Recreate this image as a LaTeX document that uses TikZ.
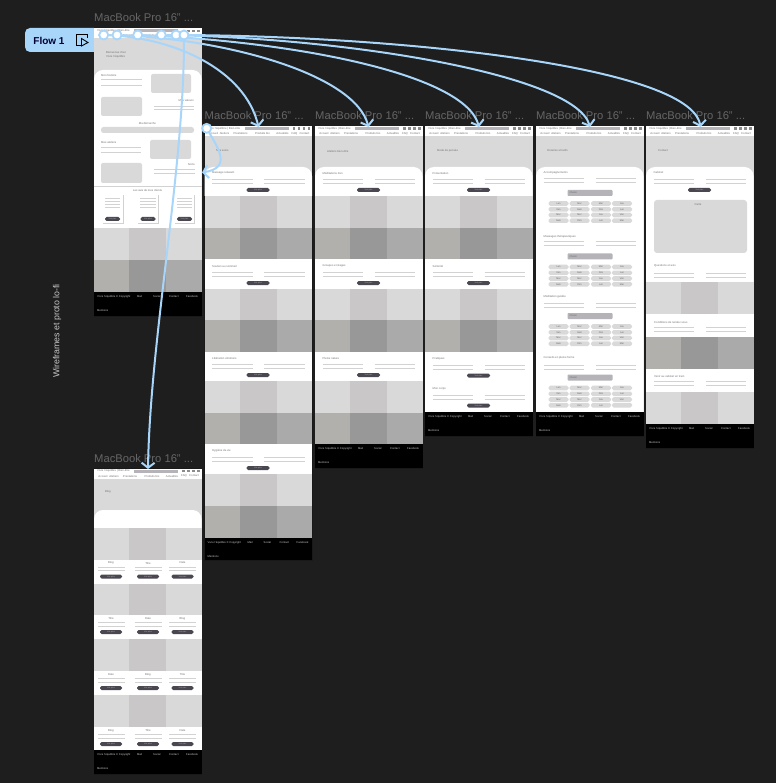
\documentclass[tikz,border=0pt]{standalone}
\usepackage{fontspec}
\setmainfont{Liberation Sans}
\usetikzlibrary{arrows.meta}

\definecolor{canvas}{HTML}{1E1E1E}
\definecolor{flowblue}{HTML}{A8D5FA}
\definecolor{hero}{HTML}{D9D9D9}
\definecolor{ruleline}{HTML}{D2D2D2}
\definecolor{photoa}{HTML}{D9D9D9}
\definecolor{photob}{HTML}{C9C7C7}
\definecolor{photoc}{HTML}{B2B0AC}
\definecolor{photod}{HTML}{989898}
\definecolor{photoe}{HTML}{AAAAAA}
\definecolor{btndark}{HTML}{4A4750}
\definecolor{selectgrey}{HTML}{B5B3B8}

\pgfdeclarelayer{arrowlayer}
\pgfdeclarelayer{spotlayer}
\pgfsetlayers{main,arrowlayer,spotlayer}

\tikzset{
  frametitle/.style={font=\fontsize{11.2}{12}\selectfont, text=black!60!white, inner sep=0pt},
  smalltext/.style={font=\fontsize{2.8}{3.4}\selectfont, text=black!55!white, inner sep=0pt},
  foottext/.style={font=\fontsize{2.7}{3.4}\selectfont, text=white!78!black, inner sep=0pt},
  rule/.style={draw=ruleline, line width=1pt},
  cardedge/.style={draw=ruleline, line width=.8pt},
  btnbox/.style={fill=btndark, rounded corners=1.6pt, minimum height=4pt, inner sep=0pt, text=white!70!black, font=\fontsize{2}{2.5}\selectfont},
  chipbox/.style={fill=hero, rounded corners=1.6pt, minimum width=20pt, minimum height=4.6pt, inner sep=0pt, text=black!60!white, font=\fontsize{2.4}{3}\selectfont},
  selectbox/.style={fill=selectgrey, rounded corners=.8pt, text width=41pt, minimum height=6pt, inner sep=2pt, inner ysep=0pt, text=black!60!white, font=\fontsize{2.4}{3}\selectfont},
  hotspot/.style={circle, fill=white, draw=flowblue, line width=1.8pt, minimum size=9pt, inner sep=0pt},
  flowarrow/.style={draw=flowblue, line width=2pt, ->, >={Straight Barb[length=5pt,width=13pt]}},
}

\newcounter{labnum}
\newcommand{\lab}[4][west]{\stepcounter{labnum}\node[smalltext,anchor=#1] (lab\arabic{labnum}) at (#2,#3) {#4};}
\newcommand{\flab}[3]{\stepcounter{labnum}\node[foottext,anchor=west] (lab\arabic{labnum}) at (#1,#2) {#3};}
\newcommand{\btn}[4][Voir plus]{\stepcounter{labnum}\node[btnbox,minimum width=#4] (lab\arabic{labnum}) at (#2,#3) {#1};}
\newcommand{\chiprow}[5]{
  \stepcounter{labnum}\node[chipbox] (lab\arabic{labnum}) at (558.5,#1) {#2};
  \stepcounter{labnum}\node[chipbox] (lab\arabic{labnum}) at (579.5,#1) {#3};
  \stepcounter{labnum}\node[chipbox] (lab\arabic{labnum}) at (601,#1) {#4};
  \stepcounter{labnum}\node[chipbox] (lab\arabic{labnum}) at (622,#1) {#5};
}
\newcommand{\choice}[1]{\stepcounter{labnum}\node[selectbox] (lab\arabic{labnum}) at (590,#1) {Choisir};}

\newcommand{\macframe}[4]{
  \node[frametitle,anchor=west] (#1title) at (#2,#3-10.5) {MacBook Pro 16" ...};
  \draw[black!90!white,line width=.8pt] (#2,#3) rectangle (#2+107.5,#4);
  \fill[hero] (#2,#3) rectangle (#2+107.5,#4);
  \fill[white] (#2,#3) rectangle (#2+107.5,#3+10);
  \fill[selectgrey] (#2+40,#3+1) rectangle (#2+84,#3+4);
  \foreach \i in {88,93,98,103} {\fill[black!45!white] (#2+\i,#3+1.2) rectangle ++(2.6,2.6);}
  \lab{#2+3}{#3+2.5}{Vivre l'équilibre | Bien-être}
  \lab[center]{#2+9}{#3+7.5}{Accueil}
  \lab[center]{#2+20}{#3+7.5}{Ateliers}
  \lab[center]{#2+36}{#3+7.5}{Prestations}
  \lab[center]{#2+58}{#3+7.5}{Produits bio}
  \lab[center]{#2+78}{#3+7.5}{Actualités}
  \lab[center]{#2+90}{#3+7.5}{FAQ}
  \lab[center]{#2+100}{#3+7.5}{Contact}
}
\newcommand{\whitecard}[3]{
  \fill[white,rounded corners=9pt] (#1,#3) |- (#1+107.5,#2) -- (#1+107.5,#3);
}
\newcommand{\whiteband}[3]{
  \fill[white] (#1,#2) rectangle (#1+107.5,#3);
}
\newcommand{\photorow}[6]{
  \fill[#4] (#1,#2) rectangle (#1+35,#3);
  \fill[#5] (#1+35,#2) rectangle (#1+72,#3);
  \fill[#6] (#1+72,#2) rectangle (#1+107.5,#3);
}
\newcommand{\photolight}[3]{\photorow{#1}{#2}{#3}{photoa}{photob}{photoa}}
\newcommand{\photodark}[3]{\photorow{#1}{#2}{#3}{photoc}{photod}{photoe}}
\newcommand{\footbar}[3]{
  \fill[black] (#1,#2) rectangle (#1+107.5,#3);
  \flab{#1+3}{#2+4.5}{Vivre l'équilibre © Copyright}
  \flab{#1+43}{#2+4.5}{Mail}
  \flab{#1+59}{#2+4.5}{Social}
  \flab{#1+75}{#2+4.5}{Contact}
  \flab{#1+92}{#2+4.5}{Facebook}
  \flab{#1+3}{#2+19}{Mentions}
}
\newcommand{\twolines}[2]{
  \draw[rule] (#1+7.5,#2) -- (#1+48,#2);
  \draw[rule] (#1+7.5,#2+4) -- (#1+48,#2+4);
  \draw[rule] (#1+59.5,#2) -- (#1+100,#2);
  \draw[rule] (#1+59.5,#2+4) -- (#1+100,#2+4);
}
\newcommand{\textblock}[3]{
  \lab{#1+7.5}{#2}{#3}
  \twolines{#1}{#2+6.5}
  \btn{#1+53.5}{#2+17}{23pt}
}
\newcommand{\itemcol}[5]{
  \lab[center]{#1}{#3+3.5}{#5}
  \draw[rule] (#1-#2,#3+7.5) -- (#1+#2,#3+7.5);
  \draw[rule] (#1-#2,#3+11) -- (#1+#2,#3+11);
  \btn{#1}{#3+17}{22pt}
}
\newcommand{\blogrow}[4]{
  \itemcol{111}{13.5}{#1}{}{#2}
  \itemcol{148}{13.5}{#1}{}{#3}
  \itemcol{182.5}{13.5}{#1}{}{#4}
}

\begin{document}
\begin{tikzpicture}[x=1pt,y=-1pt]
\useasboundingbox (0,0) rectangle (776,783);
\fill[canvas] (0,0) rectangle (776,783);

\fill[flowblue,rounded corners=5pt] (94,28) -- (25,28) -- (25,52) -- (94,52);
\fill[flowblue] (80,28) rectangle (94,52);
\node[inner sep=0pt, text=black!80!blue, font=\bfseries\fontsize{10}{12}\selectfont] (flowname) at (49,40.5) {Flow 1};
\draw[black,line width=.9pt] (87,34.5) -- (76.5,34.5) -- (76.5,45.5) -- (83,45.5);
\draw[black,line width=.9pt] (87,34.5) -- (87,38);
\draw[black,line width=.9pt] (81.5,38.5) -- (88,42.5) -- (81.5,46) -- cycle;
\node[inner sep=0pt, rotate=90, text=white!78!black, font=\fontsize{8.8}{10}\selectfont] (sectionname) at (57,331) {Wireframes et proto lo-fi};

\macframe{home}{94}{28.5}{316}
\lab{106}{53}{Bienvenue chez}
\lab{106}{56.5}{Vivre l'équilibre}
\whitecard{94}{70}{228}
\lab{101}{76}{Mon histoire}
\draw[rule] (101,80) -- (142,80);
\draw[rule] (101,85.5) -- (142,85.5);
\fill[hero,rounded corners=2pt] (151,74) rectangle (191,93);
\fill[hero,rounded corners=2pt] (101,97) rectangle (142,116);
\lab[east]{194}{101}{Mes valeurs}
\draw[rule] (154,106.5) -- (194,106.5);
\draw[rule] (154,110) -- (194,110);
\lab[center]{147.5}{123.5}{Ma démarche}
\fill[hero,rounded corners=2.5pt] (101,127) rectangle (194,133);
\lab{101}{143}{Mes ateliers}
\draw[rule] (101,148) -- (141,148);
\draw[rule] (101,152.5) -- (141,152.5);
\fill[hero,rounded corners=2pt] (150,140) rectangle (191,159);
\fill[hero,rounded corners=2pt] (101,163) rectangle (142,183);
\lab[east]{195}{165}{Soins}
\draw[rule] (154,170) -- (195,170);
\draw[rule] (154,174) -- (195,174);
\draw[cardedge] (94,186) -- (201.5,186);
\lab[center]{147.5}{190.5}{Les avis de mes clients}

\draw[cardedge] (123,195) -- (123,223) -- (103,223);
\draw[rule] (105,199) -- (120,199);
\draw[rule] (105,202) -- (120,202);
\draw[rule] (105,205) -- (120,205);
\draw[rule] (105,208) -- (120,208);
\btn{112.5}{219}{15pt}

\draw[cardedge] (158,195) -- (158,223) -- (138,223);
\draw[rule] (140,199) -- (156,199);
\draw[rule] (140,202) -- (156,202);
\draw[rule] (140,205) -- (156,205);
\draw[rule] (140,208) -- (156,208);
\btn{148}{219}{15pt}

\draw[cardedge] (194,195) -- (194,223) -- (175,223);
\draw[rule] (177,199) -- (192,199);
\draw[rule] (177,202) -- (192,202);
\draw[rule] (177,205) -- (192,205);
\draw[rule] (177,208) -- (192,208);
\btn{184.5}{219}{15pt}

\photolight{94}{228}{260}
\photodark{94}{260}{292}
\footbar{94}{292}{316}

\macframe{soins}{204.5}{126}{560}
\lab{216}{151}{Nos soins}
\whitecard{204.5}{167}{196}
\textblock{204.5}{173}{Massage relaxant}
\photolight{204.5}{196}{228}
\photodark{204.5}{228}{259}
\whiteband{204.5}{259}{289}
\textblock{204.5}{266}{Soutien au sommeil}
\photolight{204.5}{289}{320}
\photodark{204.5}{320}{352}
\whiteband{204.5}{352}{381}
\textblock{204.5}{358}{Libération émotions}
\photolight{204.5}{381}{413}
\photodark{204.5}{413}{444}
\whiteband{204.5}{444}{474}
\textblock{204.5}{451}{Hygiène de vie}
\photolight{204.5}{474}{506}
\photodark{204.5}{506}{538}
\footbar{204.5}{538}{560}

\macframe{ateliers}{315}{126}{468}
\lab{327}{151}{Ateliers bien-être}
\whitecard{315}{167}{196}
\textblock{315}{173}{Méditations Zen}
\photolight{315}{196}{228}
\photodark{315}{228}{259}
\whiteband{315}{259}{289}
\textblock{315}{266}{Groupes et stages}
\photolight{315}{289}{320}
\photodark{315}{320}{352}
\whiteband{315}{352}{381}
\textblock{315}{358}{Pleine nature}
\photolight{315}{381}{413}
\photodark{315}{413}{444}
\footbar{315}{444}{468}

\macframe{partage}{425}{126}{436}
\lab{437}{151}{Mode de pensée}
\whitecard{425}{167}{196}
\textblock{425}{173}{Présentation}
\photolight{425}{196}{228}
\photodark{425}{228}{259}
\whiteband{425}{259}{289}
\textblock{425}{266}{Sérénité}
\photolight{425}{289}{320}
\photodark{425}{320}{352}
\whiteband{425}{352}{412}
\textblock{425}{358.5}{Pratiques}
\textblock{425}{388.5}{Mon corps}
\footbar{425}{412}{436}

\macframe{tarifs}{536}{126}{436}
\lab{547}{151}{Horaires et tarifs}
\whitecard{536}{167}{412}
\lab{543.5}{173}{Accompagnements}
\twolines{536}{178.5}
\choice{193}
\chiprow{203.5}{Lun}{Mar}{Mer}{Jeu}
\chiprow{209.3}{Ven}{Sam}{Dim}{Lun}
\chiprow{215}{Mar}{Mer}{Jeu}{Ven}
\chiprow{220.7}{Sam}{Dim}{Lun}{Mar}
\lab{543.5}{236.5}{Massages thérapeutiques}
\twolines{536}{241.5}
\choice{256.5}
\chiprow{267}{Lun}{Mar}{Mer}{Jeu}
\chiprow{272.8}{Ven}{Sam}{Dim}{Lun}
\chiprow{278.5}{Mar}{Mer}{Jeu}{Ven}
\chiprow{284.2}{Sam}{Dim}{Lun}{Mar}
\lab{543.5}{296.5}{Méditation guidée}
\twolines{536}{303}
\choice{316}
\chiprow{326.5}{Lun}{Mar}{Mer}{Jeu}
\chiprow{332.3}{Ven}{Sam}{Dim}{Lun}
\chiprow{338}{Mar}{Mer}{Jeu}{Ven}
\chiprow{343.7}{Sam}{Dim}{Lun}{Mar}
\lab{543.5}{358}{Conseils en pleine forme}
\twolines{536}{365}
\choice{377.5}
\chiprow{388}{Lun}{Mar}{Mer}{Jeu}
\chiprow{393.8}{Ven}{Sam}{Dim}{Lun}
\chiprow{399.5}{Mar}{Mer}{Jeu}{Ven}
\chiprow{405.2}{Sam}{Dim}{Lun}{}
\footbar{536}{412}{436}

\macframe{contact}{646}{126}{448}
\lab{658}{151}{Contact}
\whitecard{646}{167}{282}
\textblock{646}{173}{Cabinet}
\fill[hero,rounded corners=3pt] (654,200) rectangle (747,253);
\lab[center]{698}{205}{Carte}
\lab{654}{266}{Questions et avis}
\twolines{646}{273}
\photolight{646}{282}{314}
\whiteband{646}{314}{337}
\lab{654}{322}{Conditions de rendez-vous}
\twolines{646}{327.5}
\photodark{646}{337}{368.5}
\whiteband{646}{368.5}{392}
\lab{654}{376}{Venir au cabinet en train}
\twolines{646}{381}
\photolight{646}{392}{424}
\footbar{646}{424}{448}

\macframe{blog}{94}{468.5}{774}
\lab{105}{492}{Blog}
\whitecard{94}{510}{528}
\photolight{94}{528}{559.5}
\whiteband{94}{559.5}{583.5}
\blogrow{559.5}{Blog}{Titre}{Date}
\photolight{94}{583.5}{615}
\whiteband{94}{615}{639}
\blogrow{615}{Titre}{Date}{Blog}
\photolight{94}{639}{671}
\whiteband{94}{671}{695}
\blogrow{671}{Date}{Blog}{Titre}
\photolight{94}{695}{727}
\whiteband{94}{727}{750}
\blogrow{727}{Blog}{Titre}{Date}
\footbar{94}{750}{774}

\coordinate (soinsin) at (258.5,127);
\coordinate (ateliersin) at (368.5,127);
\coordinate (partagein) at (479,127);
\coordinate (tarifsin) at (590,127);
\coordinate (contactin) at (700.5,127);
\coordinate (blogin) at (148,469);
\coordinate (homeback) at (202,172.5);

\begin{pgfonlayer}{spotlayer}
\node[hotspot] (spota) at (103.7,35) {};
\node[hotspot] (spotb) at (117,35) {};
\node[hotspot] (spotc) at (137.7,35) {};
\node[hotspot] (spotd) at (161.3,35) {};
\node[hotspot] (spote) at (176,35) {};
\node[hotspot] (spotf) at (184,35) {};
\node[hotspot] (spotg) at (206.7,128.3) {};
\end{pgfonlayer}

\begin{pgfonlayer}{arrowlayer}
\draw[flowarrow] (spota) .. controls (175,38) and (245,70) .. (soinsin);
\draw[flowarrow] (spotb) .. controls (230,40) and (355,75) .. (ateliersin);
\draw[flowarrow] (spotc) .. controls (300,42) and (465,75) .. (partagein);
\draw[flowarrow] (spotd) .. controls (350,38) and (575,75) .. (tarifsin);
\draw[flowarrow] (spote) .. controls (390,36) and (690,65) .. (contactin);
\draw[flowarrow] (spotf) .. controls (184,170) and (150,340) .. (blogin);
\draw[flowarrow] (spotg) .. controls (218,148) and (232,168) .. (homeback);
\end{pgfonlayer}
\end{tikzpicture}
\end{document}
